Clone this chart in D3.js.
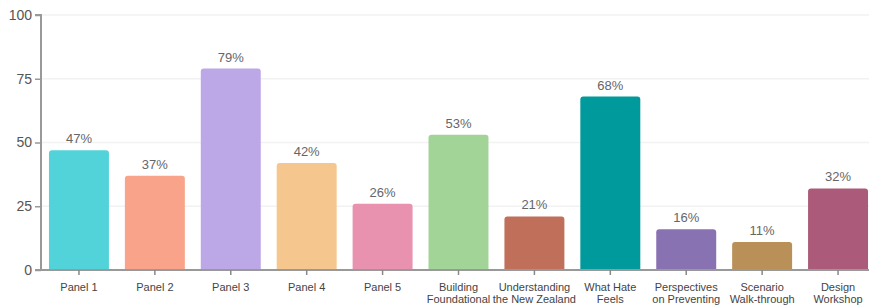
<!DOCTYPE html>
<html>
<head>
<meta charset="utf-8">
<script src="https://cdn.jsdelivr.net/npm/d3@7"></script>
<style>
html,body{margin:0;padding:0;background:#fff;overflow:hidden;}
svg{display:block;font-family:"Liberation Sans",Arial,sans-serif;}
</style>
</head>
<body>
<svg id="chart" width="869" height="305"></svg>
<script>
const categories = [
  ["Panel 1"], ["Panel 2"], ["Panel 3"], ["Panel 4"], ["Panel 5"],
  ["Building", "Foundational"], ["Understanding", "the New Zealand"],
  ["What Hate", "Feels"], ["Perspectives", "on Preventing"],
  ["Scenario", "Walk-through"], ["Design", "Workshop"]
];
const values = [47, 37, 79, 42, 26, 53, 21, 68, 16, 11, 32];
const colors = ["#52d3d9", "#f9a48a", "#bca8e6", "#f5c68e", "#e892b0", "#a3d497",
                "#c06f5a", "#009a9c", "#8872b1", "#b99057", "#ab5b79"];
const yTicks = [0, 25, 50, 75, 100];

(function() {
const svg = d3.select("#chart");
const mLeft = 41, mRight = 876, mTop = 15, mBottom = 270;

const x = d3.scaleBand().domain(d3.range(values.length)).range([mLeft, mRight])
  .paddingInner(0.21).paddingOuter(0.105);
const y = d3.scaleLinear().domain([0, 100]).range([mBottom, mTop]);

// gridlines
svg.append("g").selectAll("line").data(yTicks.filter(d => d > 0)).join("line")
  .attr("x1", mLeft).attr("x2", 869)
  .attr("y1", d => y(d)).attr("y2", d => y(d))
  .attr("stroke", "#f2f2f2").attr("stroke-width", 1.5);

// bars
svg.append("g").selectAll("path").data(values).join("path")
  .attr("d", (d, i) => {
    const x0 = x(i), w = x.bandwidth(), y0 = y(d), r = 3;
    return `M${x0},${mBottom} L${x0},${y0 + r} Q${x0},${y0} ${x0 + r},${y0} L${x0 + w - r},${y0} Q${x0 + w},${y0} ${x0 + w},${y0 + r} L${x0 + w},${mBottom} Z`;
  })
  .attr("fill", (d, i) => colors[i]);

// value labels
svg.append("g").selectAll("text").data(values).join("text")
  .attr("x", (d, i) => x(i) + x.bandwidth() / 2)
  .attr("y", d => y(d) - 7)
  .attr("text-anchor", "middle")
  .attr("font-size", 13)
  .attr("fill", "#666")
  .text(d => d + "%");

// y axis
const yAxis = svg.append("g").attr("transform", `translate(${mLeft},0)`)
  .call(d3.axisLeft(y).tickValues(yTicks).tickSize(6).tickPadding(3));
yAxis.select(".domain").attr("stroke", "#999").attr("stroke-width", 2)
  .attr("d", `M-6,${mTop}H0V${mBottom}`);
yAxis.selectAll(".tick line").attr("stroke", "#999").attr("stroke-width", 1.5);
yAxis.selectAll(".tick text").attr("font-size", 14).attr("fill", "#555")
  .attr("font-family", "'Liberation Sans',Arial,sans-serif");

// x axis
const xAxis = svg.append("g").attr("transform", `translate(0,${mBottom})`)
  .call(d3.axisBottom(x).tickSize(5).tickFormat(""));
xAxis.select(".domain").attr("stroke", "#999").attr("stroke-width", 2)
  .attr("d", `M${mLeft - 6},0H869`);
xAxis.selectAll(".tick line").attr("stroke", "#888").attr("stroke-width", 1.5);

const xl = svg.append("g").selectAll("text").data(categories).join("text")
  .attr("x", (d, i) => x(i) + x.bandwidth() / 2)
  .attr("y", 291)
  .attr("text-anchor", "middle")
  .attr("font-size", 11)
  .attr("fill", "#444");
xl.each(function(d, i) {
  const t = d3.select(this);
  d.forEach((line, j) => {
    t.append("tspan").attr("x", x(i) + x.bandwidth() / 2)
      .attr("dy", j === 0 ? 0 : 12).text(line);
  });
});
})();
</script>
</body>
</html>
